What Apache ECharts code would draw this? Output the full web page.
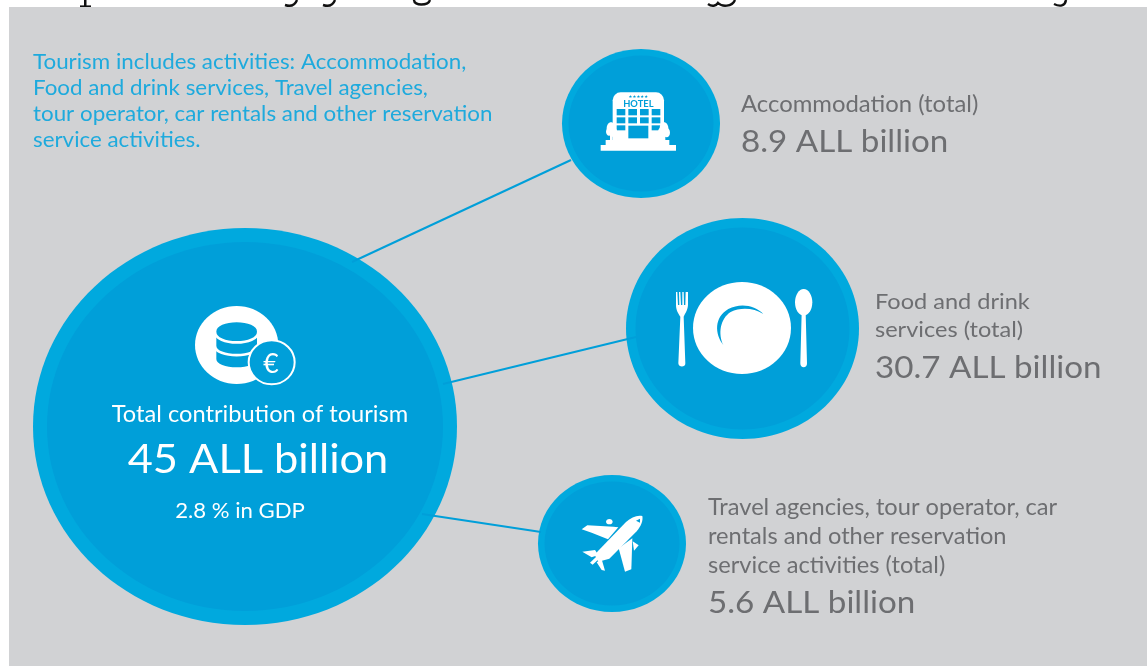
<!DOCTYPE html>
<html>
<head>
<meta charset="utf-8">
<style>html,body{margin:0;padding:0;background:#fff}#chart{width:1147px;height:666px}</style>
<script src="https://cdn.jsdelivr.net/npm/echarts@6/dist/echarts.min.js"></script>
</head>
<body>
<div id="chart"></div>
<script>
// ---- data ----
const categories = ['Total contribution of tourism', 'Accommodation (total)', 'Food and drink services (total)',
  'Travel agencies, tour operator, car rentals and other reservation service activities (total)'];
const valuesAllBillion = [45, 8.9, 30.7, 5.6];
const gdpSharePercent = 2.8;
const unitLabel = 'ALL billion';
const noteLines = ['Tourism includes activities: Accommodation,', 'Food and drink services, Travel agencies,',
  'tour operator, car rentals and other reservation', 'service activities.'];
const accommodationLines = ['Accommodation (total)'];
const foodLines = ['Food and drink', 'services (total)'];
const travelLines = ['Travel agencies, tour operator, car', 'rentals and other reservation', 'service activities (total)'];

// ---- layout (infographic, not value-scaled) ----
const BLUE = '#009fd9', RING = '#00a9de', GREY = '#6d6e71', TEXT_BLUE = '#1eaadd', PANEL = '#d1d2d4';
const FONT = 'Lato, "Open Sans", sans-serif';
const STRETCH = 1.07; // the source image is slightly stretched horizontally
const bubbleLayout = [
  { cx: 245, cy: 426.5, rx: 212, ry: 198.5, ring: 14 },
  { cx: 641, cy: 123.5, rx: 79, ry: 74.5, ring: 6.5 },
  { cx: 742.5, cy: 328.5, rx: 116.5, ry: 110.5, ring: 9.5 },
  { cx: 612, cy: 543.5, rx: 74, ry: 68.5, ring: 6.5 }
];
const connectorLayout = [
  [[352, 262], [571, 160]],
  [[443, 384], [636, 337]],
  [[422, 514], [541, 532]]
];

function ellipseItem(params, api, inset) {
  const b = bubbleLayout[params.dataIndex];
  const c = api.coord([b.cx, b.cy]);
  const s = api.size([b.rx - inset * b.ring, b.ry - inset * b.ring]);
  return { type: 'ellipse', shape: { cx: c[0], cy: c[1], rx: s[0], ry: s[1] },
    style: { fill: inset ? BLUE : RING } };
}

const Z = (x, y, children) => ({ type: 'group', x: x, y: y, scaleX: 1 / 3, scaleY: 1 / 3, children: children });
const P = (d, fill, extra) => ({ type: 'path', shape: { pathData: d }, style: Object.assign({ fill: fill }, extra || {}) });
const E = (cx, cy, rx, ry, fill) => ({ type: 'ellipse', shape: { cx, cy, rx, ry }, style: { fill } });
const R = (x, y, w, h, fill, r) => ({ type: 'rect', shape: { x, y, width: w, height: h, r: r || 0 }, style: { fill } });

function hotelIcon() {
  const win = [];
  [80, 115, 150, 185].forEach(x => { win.push(R(x, 87, 26, 19, BLUE)); win.push(R(x, 112, 26, 18, BLUE)); });
  win.push(R(80, 136, 26, 15, BLUE), R(185, 136, 26, 15, BLUE));
  return Z(590, 80, [
    R(68, 37, 154, 150, '#fff', [24, 24, 0, 0]),
    ...win,
    R(115, 137, 60, 38, BLUE),
    R(47, 180, 191, 15, '#fff'),
    R(32, 195, 226, 17, '#fff'),
    E(63, 145, 13, 18, '#fff'), E(57, 155, 9, 12, '#fff'), E(72, 158, 10, 14, '#fff'), R(60, 160, 8, 24, '#fff'),
    E(222, 145, 13, 18, '#fff'), E(213, 155, 9, 12, '#fff'), E(230, 158, 10, 14, '#fff'), R(218, 160, 8, 24, '#fff'),
    { type: 'text', style: { x: 145, y: 73, text: 'HOTEL', fill: BLUE, font: 'bold 28px Lato, sans-serif', align: 'center', verticalAlign: 'middle' } },
    { type: 'text', style: { x: 145, y: 52, text: '★★★★★', fill: BLUE, font: '13px "DejaVu Sans", sans-serif', align: 'center', verticalAlign: 'middle' } }
  ]);
}

function plateIcon() {
  return Z(620, 210, [
    E(366, 354, 147, 138, '#fff'),
    P('M310,405 C284,372 282,322 325,297 C360,278 405,285 430,312 C402,294 362,291 332,306 C300,326 294,372 310,405 Z', BLUE),
    // fork
    P('M168,246 L172,246 L174,285 L178,285 L177,246 L181,246 L183,285 L187,285 L187,246 L191,246 L192,285 L196,285 L197,246 L204,246 L204,285 C203,302 194,312 191,320 L196,460 C197,472 176,474 175,460 L181,320 C176,312 168,302 168,285 Z', '#fff'),
    // spoon
    E(551, 277, 26, 40, '#fff'),
    P('M545,310 L557,310 L561,460 C562,476 540,476 541,460 Z', '#fff')
  ]);
}

function planeIcon() {
  return Z(530, 470, [
    P('M337,138 C340,152 332,170 320,184 L238,266 L205,275 L194,254 L204,243 L288,156 C303,142 322,134 337,138 Z', '#fff'),
    P('M155,178 L172,166 L250,170 L265,172 L234,208 L185,188 Z', '#fff'),
    P('M307,205 L304,298 L285,305 L266,235 Z', '#fff'),
    E(238, 155, 10, 8, '#fff'),
    P('M308,214 L326,226 L312,242 Z', '#fff'),
    P('M157,245 L195,240 L205,255 L185,262 Z', '#fff'),
    P('M200,277 L215,268 L225,302 L215,300 Z', '#fff'),
    P('M180,278 L205,254 L212,262 L188,284 Z', '#fff'),
    P('M318,152 L330,146 L330,158 Z', BLUE)
  ]);
}

function coinIcon() {
  const band = y => P('M195,' + y + ' C195,' + (y - 44) + ' 325,' + (y - 44) + ' 325,' + y +
    ' L325,' + (y + 30) + ' C325,' + (y + 68) + ' 195,' + (y + 68) + ' 195,' + (y + 30) + ' Z', BLUE,
    { stroke: '#fff', lineWidth: 8 });
  return Z(150, 280, [
    E(260, 195, 125, 117, '#fff'),
    band(207), band(167),
    P('M195,155 C195,112 325,112 325,155 C325,198 195,198 195,155 Z', BLUE, { stroke: '#fff', lineWidth: 8 }),
    { type: 'ellipse', shape: { cx: 365, cy: 247, rx: 69, ry: 66 }, style: { fill: BLUE, stroke: '#fff', lineWidth: 6 } },
    { type: 'text', style: { x: 363, y: 254, text: '€', fill: '#fff', font: '80px Lato, sans-serif', align: 'center', verticalAlign: 'middle' } }
  ]);
}

function clippedHeadingInk() {
  // only the descenders of a heading cut off by the panel remain in the picture
  const ink = { stroke: '#111', lineWidth: 2.4, fill: 'none' };
  return { type: 'group', children: [
    { type: 'rect', shape: { x: 84, y: 0, width: 2.5, height: 6 }, style: { fill: '#111' } },
    { type: 'rect', shape: { x: 80, y: 5.4, width: 11, height: 1.6 }, style: { fill: '#111' } },
    P('M297,0 C295,5 291,7 285,5', 'none', ink),
    P('M335,0 C333,5 329,7 323,5', 'none', ink),
    P('M414,0 C414,6 428,6 430,0', 'none', ink),
    P('M708,4 C712,7 716,6 718,3 C722,7 732,7 735,0', 'none', ink),
    P('M1066,0 C1065,6 1060,7 1054,4', 'none', ink)
  ] };
}

const textEl = (x, y, text, size, fill, align) => ({
  type: 'text', z: 20, silent: true, x: x, y: y, scaleX: STRETCH,
  style: { text: text, fill: fill, font: size + 'px ' + FONT, align: align || 'left', verticalAlign: 'middle' }
});
const fmt = i => valuesAllBillion[i] + ' ' + unitLabel;

const texts = [
  ...noteLines.map((t, i) => textEl(33, 62 + i * 26, t, 20.9, TEXT_BLUE)),
  textEl(260, 414.5, categories[0], 22.1, '#ffffff', 'center'),
  textEl(258, 460, fmt(0), 40.5, '#ffffff', 'center'),
  textEl(240, 511, gdpSharePercent + ' % in GDP', 20.7, '#ffffff', 'center'),
  ...accommodationLines.map((t, i) => textEl(741, 105 + i * 29, t, 22.3, GREY)),
  textEl(741, 142, fmt(1), 31, GREY),
  ...foodLines.map((t, i) => textEl(875, 301.5 + i * 28.5, t, 22, GREY)),
  textEl(875, 368, fmt(2), 31, GREY),
  ...travelLines.map((t, i) => textEl(708, 507.5 + i * 29, t, 22.1, GREY)),
  textEl(708, 602.5, fmt(3), 31, GREY)
];

const chart = echarts.init(document.getElementById('chart'), null, { renderer: 'canvas' });
chart.setOption({
  animation: false,
  backgroundColor: '#ffffff',
  tooltip: { show: false },
  grid: { left: 0, right: 0, top: 0, bottom: 0 },
  xAxis: { type: 'value', min: 0, max: 1147, show: false },
  yAxis: { type: 'value', min: 0, max: 666, inverse: true, show: false },
  graphic: [
    { type: 'rect', z: 0, silent: true, shape: { x: 9, y: 7, width: 1138, height: 659 }, style: { fill: PANEL } },
    ...texts
  ],
  series: [
    { type: 'custom', name: 'heading ink', coordinateSystem: 'none', z: -1, silent: true, data: [0],
      renderItem: () => clippedHeadingInk() },
    { type: 'custom', name: 'rings', coordinateSystem: 'cartesian2d', z: 3, silent: true, clip: false,
      data: valuesAllBillion.map((v, i) => [bubbleLayout[i].cx, bubbleLayout[i].cy, v]),
      renderItem: (p, api) => ellipseItem(p, api, 0) },
    { type: 'custom', name: 'connectors', coordinateSystem: 'cartesian2d', z: 4, silent: true,
      data: connectorLayout.map((c, i) => [i]),
      renderItem: (p, api) => {
        const l = connectorLayout[p.dataIndex], a = api.coord(l[0]), b = api.coord(l[1]);
        return { type: 'line', shape: { x1: a[0], y1: a[1], x2: b[0], y2: b[1] }, style: { stroke: BLUE, lineWidth: 2 } };
      } },
    { type: 'custom', name: 'discs', coordinateSystem: 'cartesian2d', z: 5, silent: true,
      data: valuesAllBillion.map((v, i) => [bubbleLayout[i].cx, bubbleLayout[i].cy, v]),
      renderItem: (p, api) => ellipseItem(p, api, 1) },
    { type: 'custom', name: 'icons', coordinateSystem: 'none', z: 6, silent: true, data: [0],
      renderItem: () => ({ type: 'group', children: [coinIcon(), hotelIcon(), plateIcon(), planeIcon()] }) }
  ]
});
</script>
</body>
</html>
